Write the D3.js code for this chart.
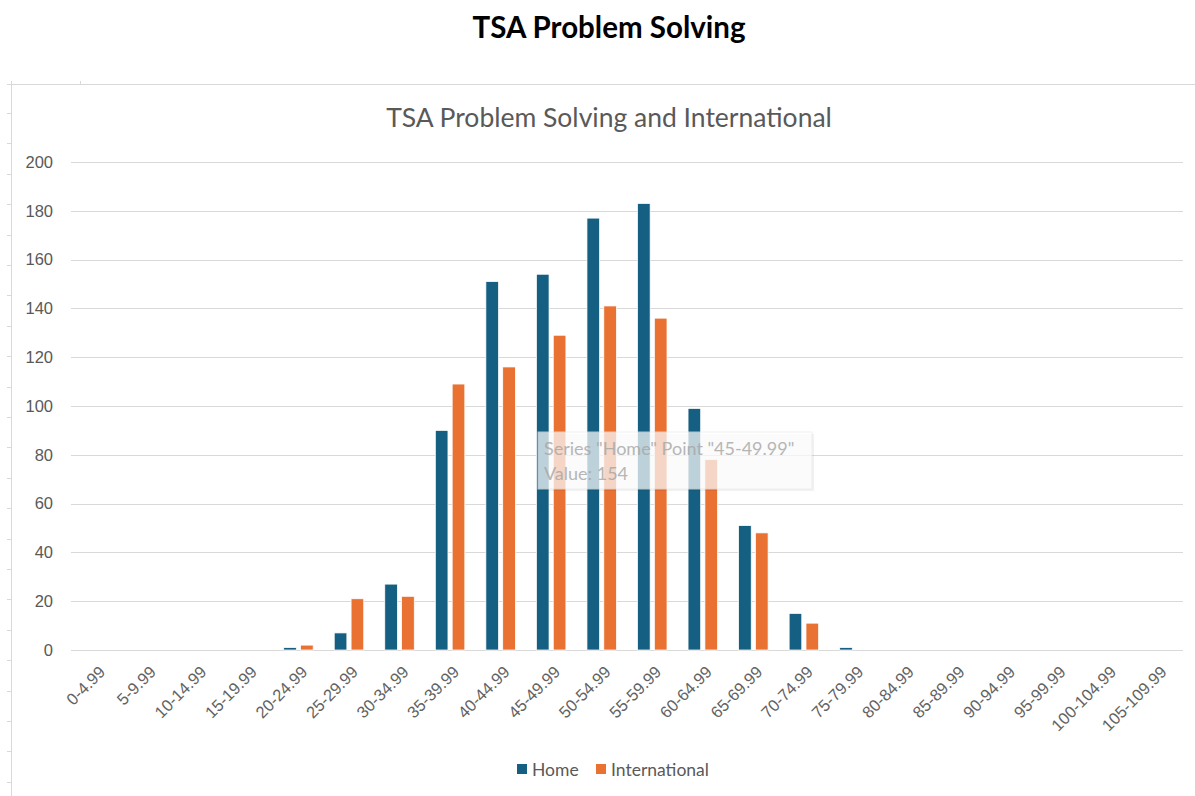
<!DOCTYPE html>
<html>
<head>
<meta charset="utf-8">
<title>TSA Problem Solving</title>
<style>
  html, body { margin: 0; padding: 0; background: #fff; }
  svg { display: block; }
</style>
</head>
<body>
<svg id="chart" width="1195" height="796"></svg>
<script src="https://cdnjs.cloudflare.com/ajax/libs/d3/7.8.5/d3.min.js"></script>
<script>
// data
var categories = ['0-4.99','5-9.99','10-14.99','15-19.99','20-24.99','25-29.99','30-34.99',
  '35-39.99','40-44.99','45-49.99','50-54.99','55-59.99','60-64.99','65-69.99','70-74.99',
  '75-79.99','80-84.99','85-89.99','90-94.99','95-99.99','100-104.99','105-109.99'];
var homeValues = [0,0,0,0,1,7,27,90,151,154,177,183,99,51,15,1,0,0,0,0,0,0];
var intlValues = [0,0,0,0,2,21,22,109,116,129,141,136,78,48,11,0,0,0,0,0,0,0];
var seriesNames = ['Home', 'International'];
var seriesColors = ['#156082', '#e97132'];
var yTicks = [0,20,40,60,80,100,120,140,160,180,200];

var svg = d3.select('#chart');

// page title
svg.append('text').attr('x', 609).attr('y', 38)
  .attr('text-anchor', 'middle')
  .style('font-family', 'Lato, sans-serif').style('font-weight', 700)
  .style('font-size', '29.5px').attr('fill', '#000')
  .text('TSA Problem Solving');

// faint sheet frame
var frame = svg.append('g').attr('stroke', '#d9d9d9').attr('fill', 'none');
frame.append('line').attr('x1', 7).attr('x2', 1195).attr('y1', 84.5).attr('y2', 84.5);
frame.append('line').attr('x1', 11.5).attr('x2', 11.5).attr('y1', 81).attr('y2', 796);
frame.append('line').attr('x1', 80.5).attr('x2', 80.5).attr('y1', 81).attr('y2', 84);
d3.range(0, 23).forEach(function(i) {
  var y = Math.round(113 + i * 30.4) + 0.5;
  frame.append('line').attr('x1', 7).attr('x2', 11).attr('y1', y).attr('y2', y);
});

// chart title
svg.append('text').attr('x', 609).attr('y', 127)
  .attr('text-anchor', 'middle')
  .style('font-family', 'Lato, sans-serif')
  .style('font-size', '26.5px').attr('fill', '#595959')
  .text('TSA Problem Solving and International');

var margin = {left: 71, right: 1183, top: 162, bottom: 650};

var x = d3.scaleBand().domain(categories).range([margin.left, margin.right]);
var x1 = d3.scaleBand().domain(seriesNames).range([10.5, 40]).paddingInner(0.25);
var y = d3.scaleLinear().domain([0, 200]).range([margin.bottom, margin.top]);

// gridlines
svg.append('g').selectAll('line').data(yTicks).join('line')
  .attr('x1', margin.left).attr('x2', margin.right)
  .attr('y1', function(d) { return Math.round(y(d)) + 0.5; })
  .attr('y2', function(d) { return Math.round(y(d)) + 0.5; })
  .attr('stroke', '#d9d9d9').attr('stroke-width', 1);

// y axis labels
var yAxis = d3.axisLeft(y).tickValues(yTicks).tickSize(0).tickPadding(0);
svg.append('g').attr('transform', 'translate(53,0)').call(yAxis)
  .call(function(g) { g.select('.domain').remove(); })
  .selectAll('text')
  .style('font-family', '"Liberation Sans", Arial, sans-serif')
  .style('font-size', '16.5px').attr('fill', '#595959');

// bars
var rows = categories.map(function(c, i) {
  return {cat: c, values: [homeValues[i], intlValues[i]]};
});
var groups = svg.append('g').selectAll('g').data(rows).join('g')
  .attr('transform', function(d) { return 'translate(' + x(d.cat) + ',0)'; });
groups.selectAll('rect')
  .data(function(d) { return d.values.map(function(v, k) { return {s: seriesNames[k], v: v, k: k}; }); })
  .join('rect')
  .filter(function(d) { return d.v > 0; })
  .attr('x', function(d) { return x1(d.s); })
  .attr('width', x1.bandwidth())
  .attr('y', function(d) { return y(d.v); })
  .attr('height', function(d) { return y(0) - y(d.v); })
  .attr('fill', function(d) { return seriesColors[d.k]; })
  .attr('stroke', '#fff').attr('stroke-width', 0.75);

// x axis labels
var xAxis = d3.axisBottom(x).tickSize(0).tickPadding(0);
svg.append('g').attr('transform', 'translate(0,' + (margin.bottom + 10) + ')').call(xAxis)
  .call(function(g) { g.select('.domain').remove(); })
  .selectAll('text')
  .style('font-family', '"Liberation Sans", Arial, sans-serif')
  .style('font-size', '16.5px').attr('fill', '#626262')
  .attr('text-anchor', 'end')
  .attr('dy', '0.35em')
  .attr('transform', 'translate(6,9) rotate(-45)');

// tooltip overlay seen in the screenshot
var tip = svg.append('g').attr('transform', 'translate(538,432)');
tip.append('rect').attr('x', 2).attr('y', 2).attr('width', 274).attr('height', 57)
  .attr('fill', '#000').attr('opacity', 0.05);
tip.append('rect').attr('width', 274).attr('height', 57)
  .attr('fill', '#fff').attr('opacity', 0.72).attr('stroke', '#ececec');
tip.append('text').attr('x', 6).attr('y', 23)
  .style('font-family', 'Lato, sans-serif').style('font-size', '18px')
  .attr('fill', '#a6a6a6').attr('opacity', 0.8)
  .text('Series "Home" Point "45-49.99"');
tip.append('text').attr('x', 6).attr('y', 48)
  .style('font-family', 'Lato, sans-serif').style('font-size', '18px')
  .attr('fill', '#a6a6a6').attr('opacity', 0.8)
  .text('Value: 154');

// legend
var legend = svg.append('g').attr('transform', 'translate(517,770)');
var legendX = [0, 79];
seriesNames.forEach(function(name, i) {
  legend.append('rect').attr('x', legendX[i]).attr('y', -6).attr('width', 10).attr('height', 10)
    .attr('fill', seriesColors[i]);
  legend.append('text').attr('x', legendX[i] + 15).attr('y', 5.5)
    .style('font-family', 'Lato, sans-serif').style('font-size', '17.5px')
    .attr('fill', '#595959').text(name);
});
</script>
</body>
</html>
